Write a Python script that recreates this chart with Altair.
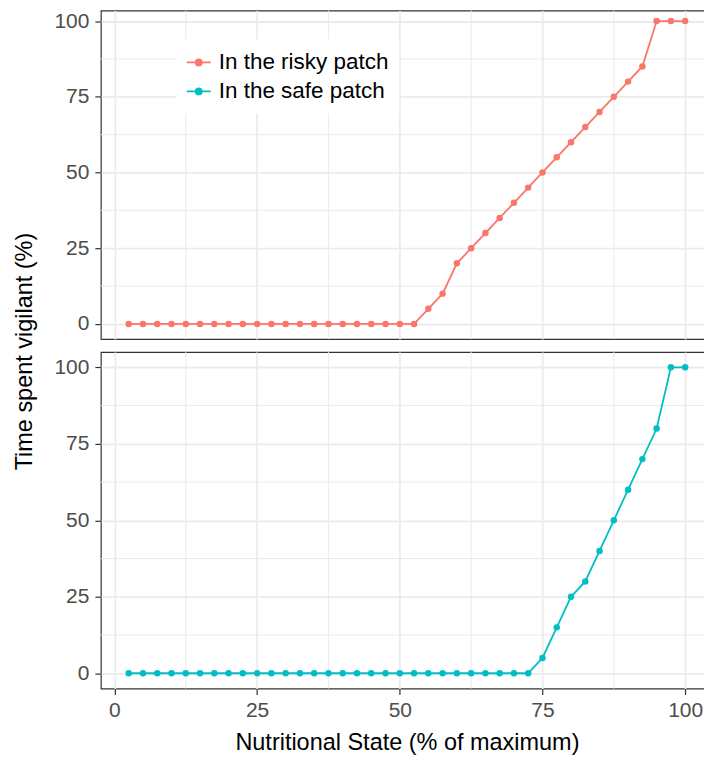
import altair as alt
import pandas as pd

# ---- data ----
state = [2.5, 5, 7.5, 10, 12.5, 15, 17.5, 20, 22.5, 25,
         27.5, 30, 32.5, 35, 37.5, 40, 42.5, 45, 47.5, 50,
         52.5, 55, 57.5, 60, 62.5, 65, 67.5, 70, 72.5, 75,
         77.5, 80, 82.5, 85, 87.5, 90, 92.5, 95, 97.5, 100]
risky = [0, 0, 0, 0, 0, 0, 0, 0, 0, 0,
         0, 0, 0, 0, 0, 0, 0, 0, 0, 0,
         0, 5, 10, 20, 25, 30, 35, 40, 45, 50,
         55, 60, 65, 70, 75, 80, 85, 100, 100, 100]
safe = [0, 0, 0, 0, 0, 0, 0, 0, 0, 0,
        0, 0, 0, 0, 0, 0, 0, 0, 0, 0,
        0, 0, 0, 0, 0, 0, 0, 0, 0, 5,
        15, 25, 30, 40, 50, 60, 70, 80, 100, 100]
patch_names = ["In the risky patch", "In the safe patch"]
patch_colors = ["#F8766D", "#00BFC4"]
major_ticks = [0, 25, 50, 75, 100]
minor_ticks = [12.5, 37.5, 62.5, 87.5]

df = pd.DataFrame({
    "state": state + state,
    "vigilant": risky + safe,
    "patch": [patch_names[0]] * len(state) + [patch_names[1]] * len(state),
})
minor_df = pd.DataFrame({"m": minor_ticks})

FONT = "Liberation Sans"
W = 613
H_TOP, H_BOT = 329, 337
xscale = alt.Scale(domain=[-2.375, 104.875], nice=False, zero=False)
yscale_top = alt.Scale(domain=[-5, 103.47], nice=False, zero=False)
yscale_bot = alt.Scale(domain=[-5, 105], nice=False, zero=False)
cscale = alt.Scale(domain=patch_names, range=patch_colors)

legend_path = ("M-1,0L1,0"
               "M-0.25,0A0.25,0.25 0 1,0 0.25,0A0.25,0.25 0 1,0 -0.25,0"
               "M-0.13,0A0.13,0.13 0 1,0 0.13,0A0.13,0.13 0 1,0 -0.13,0"
               "M-0.03,0A0.03,0.03 0 1,0 0.03,0A0.03,0.03 0 1,0 -0.03,0")


def panel(name, bottom, legend, yscale, h):
    xaxis = alt.Axis(values=major_ticks, grid=True, domain=False,
                     labels=bottom, ticks=bottom,
                     title="Nutritional State (% of maximum)" if bottom else None,
                     titlePadding=10, labelPadding=5)
    if bottom:
        yaxis = alt.Axis(values=major_ticks, grid=True, domain=False, title=None,
                         labelPadding=6)
    else:
        yaxis = alt.Axis(values=major_ticks, grid=True, domain=False,
                         title="Time spent vigilant (%)", labelPadding=6,
                         titleX=-69, titleY=h + 12, titleBaseline="alphabetic")
    sub = alt.Chart(df).transform_filter(alt.datum.patch == name)
    vminor = alt.Chart(minor_df).mark_rule(color="#EBEBEB", strokeWidth=1).encode(
        x=alt.X("m:Q", scale=xscale, axis=xaxis))
    hminor = alt.Chart(minor_df).mark_rule(color="#EBEBEB", strokeWidth=1).encode(
        y=alt.Y("m:Q", scale=yscale, axis=yaxis))
    line = sub.mark_line(strokeWidth=1.8).encode(
        x=alt.X("state:Q", scale=xscale, axis=xaxis),
        y=alt.Y("vigilant:Q", scale=yscale, axis=yaxis),
        color=alt.Color("patch:N", scale=cscale, legend=legend),
    )
    pts = sub.mark_circle(size=42, opacity=1).encode(
        x=alt.X("state:Q", scale=xscale, axis=xaxis),
        y=alt.Y("vigilant:Q", scale=yscale, axis=yaxis),
        color=alt.Color("patch:N", scale=cscale, legend=None),
    )
    return alt.layer(vminor, hminor, line, pts).properties(width=W, height=h)


leg = alt.Legend(orient="none", legendX=75, legendY=29, title=None,
                 symbolType=legend_path, symbolSize=576, symbolStrokeWidth=1.8,
                 labelFontSize=22.5, labelFont=FONT, labelColor="#000000",
                 labelLimit=400,
                 fillColor="white", padding=10, rowPadding=4, labelOffset=7)

top = panel(patch_names[0], False, leg, yscale_top, H_TOP)
bottom = panel(patch_names[1], True, None, yscale_bot, H_BOT)

chart = alt.vconcat(top, bottom, spacing=13, bounds="flush").resolve_legend(
    color="independent"
).resolve_scale(y="independent").properties(
    padding={"left": 4, "top": 0, "right": -11, "bottom": 0}
).configure(font=FONT).configure_view(
    stroke="#333333", strokeWidth=1.2
).configure_axis(
    gridColor="#EBEBEB", gridWidth=1.8,
    tickColor="#333333", tickSize=6, tickWidth=1.2,
    labelFont=FONT, labelFontSize=21, labelColor="#4D4D4D",
    titleFont=FONT, titleFontSize=23.5, titleColor="#000000", titleFontWeight="normal",
)

chart.save("out.html", embed_options={"renderer": "svg", "actions": False})
